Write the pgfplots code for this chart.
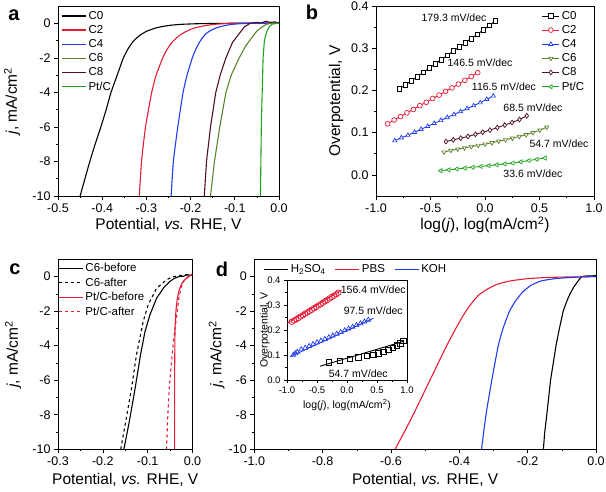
\documentclass[border=0pt]{standalone}
\usepackage{pgfplots}
\pgfplotsset{compat=1.18}
\usepackage{fontspec}
\setmainfont{Liberation Sans}
\definecolor{cred}{RGB}{228,28,52}
\definecolor{cblue}{RGB}{35,60,235}
\definecolor{colive}{RGB}{95,130,45}
\definecolor{cmaroon}{RGB}{80,15,40}
\definecolor{cgreen}{RGB}{30,165,30}
\pgfplotsset{
  base/.style={scale only axis, axis line style={line width=0.8pt}, tick align=outside,
    xtick pos=bottom, ytick pos=left, major tick length=4pt, minor tick length=2.2pt,
    every tick/.style={line width=0.6pt, black},
    /pgf/number format/assume math mode=true,
    tick label style={font=\fontsize{12.5}{14}\selectfont},
    label style={font=\fontsize{15.5}{18}\selectfont},
    legend style={draw=none, fill=none, font=\fontsize{11.5}{13.5}\selectfont, inner sep=0pt, row sep=0.6pt},
    legend cell align=left,
    every axis plot/.append style={line width=1.1pt}},
  onedec/.style={xticklabel style={/pgf/number format/.cd, fixed, fixed zerofill, precision=1}},
  onedecy/.style={yticklabel style={/pgf/number format/.cd, fixed, fixed zerofill, precision=1}},
  linelegend/.style={legend image code/.code={\draw[##1,line width=1.3pt] (0pt,0pt) -- (24pt,0pt);}},
}
\begin{document}
\begin{tikzpicture}
\useasboundingbox (0pt,0pt) rectangle (606pt,492pt);
% ---------------- panel a ----------------
\begin{axis}[base, onedec, linelegend, at={(58pt,296pt)}, anchor=south west, width=221pt, height=190pt,
  xmin=-0.5, xmax=0, ymin=-10, ymax=1,
  xtick={-0.5,-0.4,-0.3,-0.2,-0.1,0}, ytick={-10,-8,-6,-4,-2,0},
  minor x tick num=1, minor y tick num=1,
  xlabel={Potential, \textit{vs.} RHE, V}, ylabel={\textit{j}, mA/cm\textsuperscript{2}},
  xlabel style={at={(axis description cs:0.5,0)}, anchor=center, yshift=-29pt},
  ylabel style={at={(axis description cs:0,0.5)}, anchor=center, yshift=46pt},
  legend style={at={(axis description cs:0,1)}, anchor=north west, xshift=3pt, yshift=-3pt}]
\addplot[black, smooth, tension=0.3] coordinates {(-0.45,-10) (-0.439,-9) (-0.428,-8) (-0.416,-7) (-0.403,-6) (-0.391,-5) (-0.38,-4) (-0.366,-3) (-0.352,-2) (-0.342,-1.5) (-0.33,-1.05) (-0.315,-0.7) (-0.30,-0.47) (-0.28,-0.28) (-0.26,-0.17) (-0.24,-0.1) (-0.22,-0.06) (-0.19,-0.03) (-0.15,-0.01) (-0.1,0) (0,0)};
\addlegendentry{C0}
\addplot[cred, smooth, tension=0.3] coordinates {(-0.316,-10) (-0.311,-8) (-0.302,-6) (-0.288,-4) (-0.278,-3) (-0.263,-2) (-0.254,-1.55) (-0.245,-1.2) (-0.235,-0.92) (-0.225,-0.7) (-0.212,-0.5) (-0.2,-0.35) (-0.185,-0.23) (-0.17,-0.15) (-0.155,-0.09) (-0.14,-0.05) (-0.12,-0.02) (-0.1,0) (0,0)};
\addlegendentry{C2}
\addplot[cblue, smooth, tension=0.3] coordinates {(-0.244,-10) (-0.239,-8) (-0.229,-6) (-0.217,-4) (-0.208,-3) (-0.196,-2) (-0.188,-1.5) (-0.18,-1.1) (-0.172,-0.8) (-0.165,-0.6) (-0.155,-0.42) (-0.145,-0.3) (-0.132,-0.19) (-0.12,-0.12) (-0.105,-0.06) (-0.09,-0.03) (-0.07,0) (0,0)};
\addlegendentry{C4}
\addplot[colive] coordinates {(-0.155,-10) (-0.146,-8) (-0.134,-6) (-0.12,-4) (-0.108,-3) (-0.09,-2) (-0.075,-1.3) (-0.062,-0.85) (-0.05,-0.45) (-0.04,-0.25) (-0.03,-0.08) (-0.02,0) (0,0)};
\addlegendentry{C6}
\addplot[cmaroon] coordinates {(-0.169,-10) (-0.164,-8) (-0.155,-6) (-0.143,-4) (-0.133,-3) (-0.12,-2) (-0.105,-1.1) (-0.09,-0.6) (-0.078,-0.2) (-0.065,0) (-0.05,0.05) (-0.04,0.02) (-0.03,0.12) (-0.02,0.05) (-0.01,0.08) (0,0.02)};
\addlegendentry{C8}
\addplot[cgreen] coordinates {(-0.042,-10) (-0.041,-8) (-0.040,-6) (-0.038,-4) (-0.036,-2) (-0.033,-1) (-0.028,-0.5) (-0.022,-0.2) (-0.015,-0.05) (-0.005,0) (0,0)};
\addlegendentry{Pt/C}
\end{axis}
\node[font=\bfseries\fontsize{20}{22}\selectfont] at (14pt,477pt) {a};
% ---------------- panel b ----------------
\begin{axis}[base, onedec, onedecy, at={(376pt,296pt)}, anchor=south west, width=218pt, height=190pt,
  xmin=-1, xmax=1, ymin=-0.05, ymax=0.4,
  xtick={-1,-0.5,0,0.5,1}, ytick={0,0.1,0.2,0.3,0.4},
  minor x tick num=1, minor y tick num=1,
  xlabel={log(\textit{j}), log(mA/cm\textsuperscript{2})}, ylabel={Overpotential, V},
  xlabel style={at={(axis description cs:0.5,0)}, anchor=center, yshift=-29pt},
  ylabel style={at={(axis description cs:0,0.5)}, anchor=center, yshift=40pt},
  legend style={at={(axis description cs:0.76,1)}, anchor=north west, yshift=-3pt},
  every axis plot/.append style={line width=0.9pt, mark size=2.4pt}]
\addplot[black, mark=square*, mark options={solid, fill=white, line width=0.7pt}] coordinates {(-0.786,0.204) (-0.731,0.213) (-0.676,0.223) (-0.621,0.233) (-0.566,0.243) (-0.511,0.253) (-0.456,0.263) (-0.401,0.273) (-0.346,0.283) (-0.291,0.293) (-0.236,0.303) (-0.181,0.313) (-0.126,0.323) (-0.071,0.333) (-0.016,0.343) (0.040,0.354) (0.095,0.365)};
\addlegendentry{C0}
\addplot[cred, mark=*, mark options={solid, fill=white, line width=0.7pt}] coordinates {(-0.893,0.121) (-0.834,0.130) (-0.775,0.138) (-0.716,0.147) (-0.657,0.155) (-0.598,0.164) (-0.539,0.172) (-0.480,0.181) (-0.421,0.189) (-0.362,0.198) (-0.303,0.206) (-0.244,0.215) (-0.185,0.224) (-0.126,0.233) (-0.067,0.242)};
\addlegendentry{C2}
\addplot[cblue, mark=triangle*, mark options={solid, fill=white, line width=0.7pt}] coordinates {(-0.828,0.081) (-0.768,0.088) (-0.707,0.094) (-0.647,0.101) (-0.587,0.108) (-0.526,0.115) (-0.466,0.122) (-0.406,0.129) (-0.346,0.136) (-0.285,0.143) (-0.225,0.150) (-0.165,0.157) (-0.104,0.164) (-0.044,0.171) (0.016,0.179) (0.076,0.187)};
\addlegendentry{C4}
\addplot[colive, mark=triangle*, mark options={solid, fill=white, line width=0.7pt, rotate=180}] coordinates {(-0.376,0.054) (-0.313,0.058) (-0.250,0.061) (-0.188,0.064) (-0.125,0.067) (-0.062,0.070) (0.001,0.073) (0.064,0.076) (0.126,0.080) (0.189,0.083) (0.252,0.087) (0.315,0.091) (0.377,0.095) (0.440,0.100) (0.503,0.106) (0.566,0.113)};
\addlegendentry{C6}
\addplot[cmaroon, mark=diamond*, mark options={solid, fill=white, line width=0.7pt}] coordinates {(-0.358,0.079) (-0.291,0.083) (-0.223,0.087) (-0.156,0.091) (-0.088,0.096) (-0.021,0.101) (0.046,0.106) (0.113,0.112) (0.181,0.118) (0.248,0.124) (0.316,0.131) (0.383,0.140)};
\addlegendentry{C8}
\addplot[cgreen, mark=triangle*, mark options={solid, fill=white, line width=0.7pt, rotate=90}] coordinates {(-0.406,0.010) (-0.332,0.012) (-0.259,0.014) (-0.185,0.016) (-0.112,0.018) (-0.038,0.020) (0.035,0.022) (0.109,0.024) (0.182,0.026) (0.256,0.028) (0.329,0.031) (0.403,0.034) (0.476,0.037) (0.550,0.040)};
\addlegendentry{Pt/C}
\node[font=\fontsize{10.5}{12}\selectfont] at (axis cs:-0.284,0.372) {179.3 mV/dec};
\node[font=\fontsize{10.5}{12}\selectfont] at (axis cs:-0.046,0.265) {146.5 mV/dec};
\node[font=\fontsize{10.5}{12}\selectfont] at (axis cs:0.174,0.208) {116.5 mV/dec};
\node[font=\fontsize{10.5}{12}\selectfont] at (axis cs:0.44,0.158) {68.5 mV/dec};
\node[font=\fontsize{10.5}{12}\selectfont] at (axis cs:0.679,0.073) {54.7 mV/dec};
\node[font=\fontsize{10.5}{12}\selectfont] at (axis cs:0.44,0.002) {33.6 mV/dec};
\end{axis}
\node[font=\bfseries\fontsize{20}{22}\selectfont] at (312pt,480pt) {b};
% ---------------- panel c ----------------
\begin{axis}[base, onedec, linelegend, at={(58pt,42.7pt)}, anchor=south west, width=134.5pt, height=190pt,
  xmin=-0.3, xmax=0, ymin=-10, ymax=1,
  xtick={-0.3,-0.2,-0.1,0}, ytick={-10,-8,-6,-4,-2,0},
  minor x tick num=1, minor y tick num=1,
  xlabel={Potential, \textit{vs.} RHE, V}, ylabel={\textit{j}, mA/cm\textsuperscript{2}},
  xlabel style={at={(axis description cs:0.5,0)}, anchor=center, yshift=-30.5pt},
  ylabel style={at={(axis description cs:0,0.5)}, anchor=center, yshift=45pt},
  legend style={at={(axis description cs:0,1)}, anchor=north west, xshift=0pt, yshift=-2pt}]
\addplot[black] coordinates {(-0.153,-10) (-0.141,-8.4) (-0.128,-6.47) (-0.116,-4.54) (-0.106,-3.19) (-0.095,-2.22) (-0.080,-1.25) (-0.065,-0.67) (-0.051,-0.29) (-0.04,-0.1) (-0.03,0) (-0.02,0.02) (-0.012,0.1) (-0.005,0.08) (0,0.1)};
\addlegendentry{C6-before}
\addplot[black, dashed] coordinates {(-0.160,-10) (-0.149,-8.4) (-0.136,-6.47) (-0.125,-4.54) (-0.110,-2.6) (-0.099,-1.64) (-0.080,-0.67) (-0.058,-0.19) (-0.045,-0.02) (-0.03,0.05) (-0.015,0.1) (0,0.12)};
\addlegendentry{C6-after}
\addplot[cred] coordinates {(-0.040,-10) (-0.040,-6) (-0.039,-3) (-0.037,-2) (-0.034,-1.3) (-0.030,-0.8) (-0.024,-0.4) (-0.016,-0.15) (-0.008,0) (-0.002,0.1) (0,0.1)};
\addlegendentry{Pt/C-before}
\addplot[cred, dashed] coordinates {(-0.058,-10) (-0.055,-8) (-0.052,-6.5) (-0.047,-5) (-0.042,-3.6) (-0.037,-2.6) (-0.034,-2.0) (-0.030,-1.2) (-0.025,-0.6) (-0.018,-0.2) (-0.010,0) (0,0.1)};
\addlegendentry{Pt/C-after}
\end{axis}
\node[font=\bfseries\fontsize{20}{22}\selectfont] at (15pt,223pt) {c};
% ---------------- panel d ----------------
\begin{axis}[base, onedec, linelegend, at={(254.3pt,42.7pt)}, anchor=south west, width=341.7pt, height=190pt,
  xmin=-1, xmax=0, ymin=-10, ymax=1,
  xtick={-1,-0.8,-0.6,-0.4,-0.2,0}, ytick={-10,-8,-6,-4,-2,0},
  minor x tick num=1, minor y tick num=1,
  xlabel={Potential, \textit{vs.} RHE, V}, ylabel={\textit{j}, mA/cm\textsuperscript{2}},
  xlabel style={at={(axis description cs:0.5,0)}, anchor=center, yshift=-30.5pt},
  ylabel style={at={(axis description cs:0,0.5)}, anchor=center, yshift=37.6pt},
  legend columns=3,
  legend style={at={(axis description cs:0,1)}, anchor=north west, xshift=9pt, yshift=-3pt,
    /tikz/every even column/.append style={column sep=7pt}}]
\addplot[black] coordinates {(-0.154,-10) (-0.150,-9) (-0.144,-8) (-0.133,-6) (-0.117,-4) (-0.107,-3) (-0.096,-2) (-0.085,-1.4) (-0.076,-1) (-0.065,-0.6) (-0.052,-0.25) (-0.042,0) (-0.03,0.03) (0,0.05)};
\addlegendentry{H\textsubscript{2}SO\textsubscript{4}}
\addplot[cred, smooth, tension=0.3] coordinates {(-0.588,-10) (-0.561,-9) (-0.535,-8) (-0.486,-6) (-0.437,-4) (-0.41,-3) (-0.39,-2.3) (-0.37,-1.7) (-0.345,-1.1) (-0.32,-0.75) (-0.29,-0.45) (-0.25,-0.25) (-0.2,-0.12) (-0.15,-0.06) (-0.1,-0.03) (0,0)};
\addlegendentry{PBS}
\addplot[cblue, smooth, tension=0.3] coordinates {(-0.335,-10) (-0.322,-8) (-0.305,-6) (-0.286,-4) (-0.272,-3) (-0.253,-2) (-0.235,-1.4) (-0.215,-0.9) (-0.19,-0.5) (-0.16,-0.25) (-0.12,-0.12) (-0.08,-0.06) (-0.04,-0.02) (0,0)};
\addlegendentry{KOH}
\end{axis}
\node[font=\bfseries\fontsize{20}{22}\selectfont] at (222pt,223pt) {d};
% ---------------- inset ----------------
\begin{axis}[base, onedec, onedecy, at={(287pt,112pt)}, anchor=south west, width=120pt, height=100pt,
  axis background/.style={fill=white},
  xmin=-1, xmax=1, ymin=0, ymax=0.4,
  xtick={-1,-0.5,0,0.5,1}, ytick={0,0.1,0.2,0.3,0.4},
  minor x tick num=1, minor y tick num=1, major tick length=3pt, minor tick length=1.8pt,
  tick label style={font=\fontsize{9.5}{11}\selectfont},
  label style={font=\fontsize{10.5}{12}\selectfont},
  xlabel={log(\textit{j}), log(mA/cm\textsuperscript{2})}, ylabel={Overpotential, V},
  xlabel style={at={(axis description cs:0.5,0)}, anchor=center, yshift=-25pt},
  ylabel style={at={(axis description cs:0,0.5)}, anchor=center, yshift=22pt},
  every axis plot/.append style={line width=0.9pt, mark size=2.8pt}]
\addplot[cred, only marks, mark=o, mark options={solid, line width=0.7pt}] coordinates {(-0.92,0.233) (-0.883,0.238) (-0.846,0.243) (-0.809,0.248) (-0.772,0.254) (-0.735,0.259) (-0.698,0.265) (-0.661,0.270) (-0.624,0.276) (-0.587,0.281) (-0.550,0.287) (-0.513,0.292) (-0.476,0.298) (-0.439,0.303) (-0.402,0.309) (-0.365,0.315) (-0.328,0.320) (-0.291,0.326) (-0.254,0.332) (-0.217,0.337) (-0.180,0.343) (-0.145,0.349)};
\addplot[cred] coordinates {(-1.0,0.226) (-0.09,0.360)};
\addplot[cblue, only marks, mark=triangle, mark options={solid, line width=0.7pt}] coordinates {(-0.895,0.100) (-0.86,0.106) (-0.829,0.112) (-0.763,0.122) (-0.697,0.128) (-0.632,0.135) (-0.566,0.143) (-0.500,0.150) (-0.434,0.157) (-0.368,0.163) (-0.303,0.170) (-0.237,0.177) (-0.171,0.184) (-0.105,0.191) (-0.039,0.198) (0.026,0.205) (0.092,0.212) (0.158,0.219) (0.224,0.226) (0.290,0.233) (0.355,0.240)};
\addplot[cblue] coordinates {(-0.95,0.093) (0.44,0.247)};
\addplot[black, only marks, mark=square, mark options={solid, line width=0.7pt}] coordinates {(-0.30,0.071) (-0.117,0.077) (0.05,0.084) (0.189,0.091) (0.328,0.096) (0.439,0.101) (0.522,0.107) (0.606,0.113) (0.689,0.120) (0.761,0.129) (0.828,0.139) (0.894,0.147) (0.939,0.156)};
\addplot[black] coordinates {(-0.45,0.055) (0.95,0.155)};
\node[font=\fontsize{10.5}{12}\selectfont] at (axis cs:0.438,0.36) {156.4 mV/dec};
\node[font=\fontsize{10.5}{12}\selectfont] at (axis cs:0.438,0.277) {97.5 mV/dec};
\node[font=\fontsize{10.5}{12}\selectfont] at (axis cs:0.188,0.024) {54.7 mV/dec};
\end{axis}
\end{tikzpicture}
\end{document}
